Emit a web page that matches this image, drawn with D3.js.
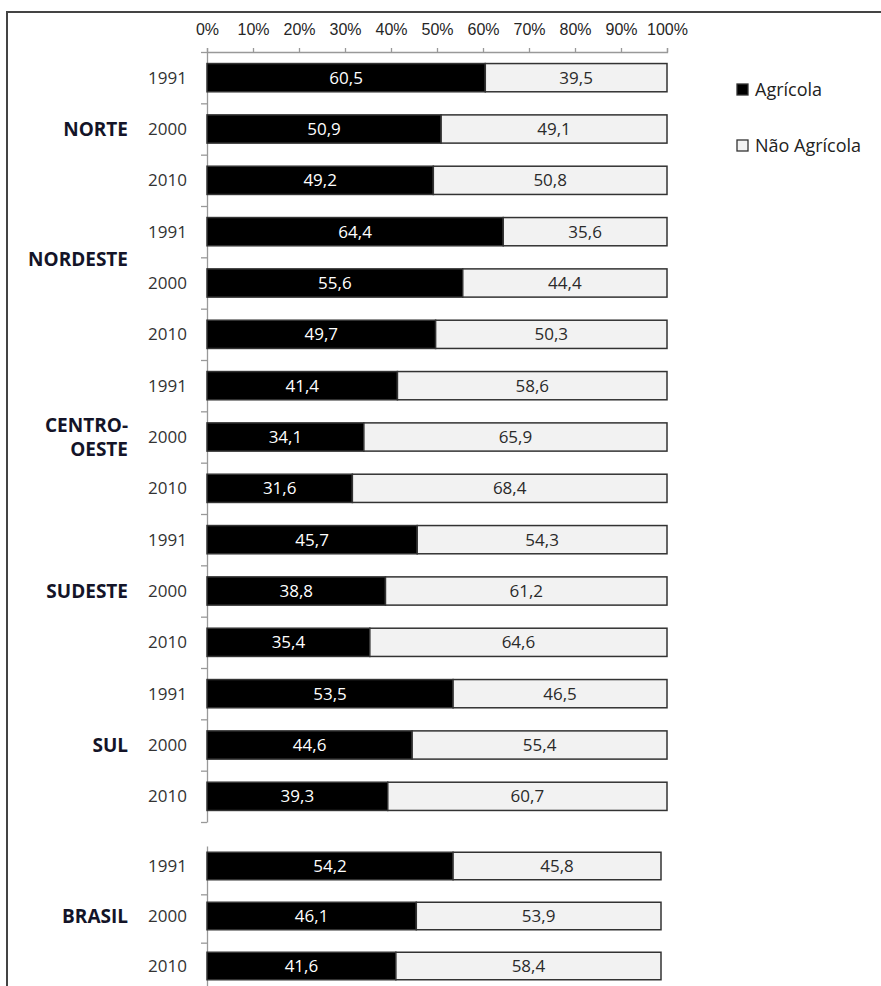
<!DOCTYPE html>
<meta charset="utf-8">
<style>
body { margin: 0; background: #fff; }
svg { font-family: "Open Sans", sans-serif; }
.axis text { font-size: 16px; fill: #262626; }
.axis path, .axis line { stroke: #999; stroke-width: 1.3; }
.year { font-size: 17px; fill: #333; text-anchor: end; }
.region { font-size: 19px; font-weight: bold; fill: #141428; text-anchor: end; }
.val { font-size: 17px; text-anchor: middle; }
.text_leg { font-size: 18px; fill: #222; }
</style>
<svg width="881" height="986"></svg>
<script src="https://d3js.org/d3.v7.min.js"></script>
<script>
// data
var regions = ["NORTE", "NORDESTE", "CENTRO-OESTE", "SUDESTE", "SUL", "BRASIL"];
var regionLines = [["NORTE"], ["NORDESTE", "", ""], ["CENTRO-", "OESTE"], ["SUDESTE"], ["SUL"], ["BRASIL"]];
var years = ["1991", "2000", "2010"];
var agricola = [
  [60.5, 50.9, 49.2],
  [64.4, 55.6, 49.7],
  [41.4, 34.1, 31.6],
  [45.7, 38.8, 35.4],
  [53.5, 44.6, 39.3],
  [54.2, 46.1, 41.6]
];
var naoAgricola = [
  [39.5, 49.1, 50.8],
  [35.6, 44.4, 50.3],
  [58.6, 65.9, 68.4],
  [54.3, 61.2, 64.6],
  [46.5, 55.4, 60.7],
  [45.8, 53.9, 58.4]
];
var seriesNames = ["Agrícola", "Não Agrícola"];
var xTicks = [0, 10, 20, 30, 40, 50, 60, 70, 80, 90, 100];

var svg = d3.select("svg");
var fmt = function(v) { return d3.format(".1f")(v).replace(".", ","); };
var color = d3.scaleOrdinal().domain(seriesNames).range(["#000", "#f2f2f2"]);
var textColor = d3.scaleOrdinal().domain(seriesNames).range(["#fff", "#2a2a2a"]);

// frame
svg.append("path")
  .attr("d", "M7,986V12H881")
  .attr("fill", "none")
  .attr("stroke", "#444")
  .attr("stroke-width", 2);

// build rows
function rowsFor(rIdx) {
  return years.map(function(y, i) {
    return { id: regions[rIdx] + "-" + y, region: regions[rIdx], year: y,
      values: [agricola[rIdx][i], naoAgricola[rIdx][i]] };
  });
}
var mainRows = [], r;
for (r = 0; r < 5; r++) mainRows = mainRows.concat(rowsFor(r));
var brRows = rowsFor(5);

var xMain = d3.scaleLinear().domain([0, 100]).range([207, 667]);
var xBr = d3.scaleLinear().domain([0, 100]).range([207, 661]);

var yMain = d3.scaleBand().domain(mainRows.map(function(d) { return d.id; }))
  .range([52, 822]).paddingInner(0.45).paddingOuter(0.225);
var yBr = d3.scaleBand().domain(brRows.map(function(d) { return d.id; }))
  .range([841, 991]).paddingInner(0.45).paddingOuter(0.225);

// top axis
svg.append("g")
  .attr("class", "axis")
  .attr("transform", "translate(0,52)")
  .call(d3.axisTop(xMain).tickValues(xTicks).tickSize(4).tickSizeOuter(4).tickPadding(13)
    .tickFormat(function(d) { return d + "%"; }));

function drawBlock(rows, x, y, rIdxs, nRows, yStart, yEnd, outerBottom) {
  // vertical axis with ticks at row boundaries
  var yb = d3.scaleLinear().domain([0, nRows]).range([yStart, yEnd]);
  svg.append("g")
    .attr("class", "axis")
    .attr("transform", "translate(207,0)")
    .call(d3.axisLeft(yb).tickValues(d3.range(outerBottom ? 0 : 1, outerBottom ? nRows + 1 : nRows))
      .tickSize(6).tickSizeOuter(0).tickFormat(""));

  var stack = d3.stack().keys([0, 1]).value(function(d, k) { return d.values[k]; })(rows);
  var layer = svg.append("g").selectAll("g").data(stack).enter().append("g");
  layer.selectAll("rect").data(function(s) { return s.map(function(p) { return { p: p, key: seriesNames[s.key] }; }); })
    .enter().append("rect")
    .attr("x", function(d) { return x(d.p[0]); })
    .attr("width", function(d) { return x(d.p[1]) - x(d.p[0]); })
    .attr("y", function(d) { return y(d.p.data.id); })
    .attr("height", y.bandwidth())
    .attr("fill", function(d) { return color(d.key); })
    .attr("stroke", "#333")
    .attr("stroke-width", 1.5);
  layer.selectAll("text").data(function(s) { return s.map(function(p) { return { p: p, key: seriesNames[s.key], v: p.data.values[s.key] }; }); })
    .enter().append("text")
    .attr("class", "val")
    .attr("x", function(d) { return (x(d.p[0]) + x(d.p[1])) / 2; })
    .attr("y", function(d) { return y(d.p.data.id) + y.bandwidth() / 2; })
    .attr("dy", "0.36em")
    .attr("fill", function(d) { return textColor(d.key); })
    .text(function(d) { return fmt(d.v); });

  svg.append("g").selectAll("text").data(rows).enter().append("text")
    .attr("class", "year")
    .attr("x", 187)
    .attr("y", function(d) { return y(d.id) + y.bandwidth() / 2; })
    .attr("dy", "0.36em")
    .text(function(d) { return d.year; });

  rIdxs.forEach(function(ri) {
    var mid = y(regions[ri] + "-2000") + y.bandwidth() / 2;
    var lines = regionLines[ri];
    var t = svg.append("text").attr("class", "region").attr("x", 128);
    lines.forEach(function(l, i) {
      t.append("tspan").attr("x", 128)
        .attr("y", mid + (i - (lines.length - 1) / 2) * 24)
        .attr("dy", "0.36em")
        .text(l);
    });
  });
}

drawBlock(mainRows, xMain, yMain, [0, 1, 2, 3, 4], 15, 52, 822, true);
drawBlock(brRows, xBr, yBr, [5], 3, 846, 991, false);

// legend
var leg = svg.append("g").attr("transform", "translate(737,84)");
leg.selectAll("rect").data(seriesNames).enter().append("rect")
  .attr("x", 0).attr("y", function(d, i) { return i * 56; })
  .attr("width", 11).attr("height", 11)
  .attr("fill", function(d) { return color(d); })
  .attr("stroke", "#333").attr("stroke-width", 1.3);
leg.selectAll("text").data(seriesNames).enter().append("text")
  .attr("class", "text_leg")
  .attr("x", 18).attr("y", function(d, i) { return i * 56 + 6; })
  .attr("dy", "0.36em")
  .text(function(d) { return d; });
</script>
